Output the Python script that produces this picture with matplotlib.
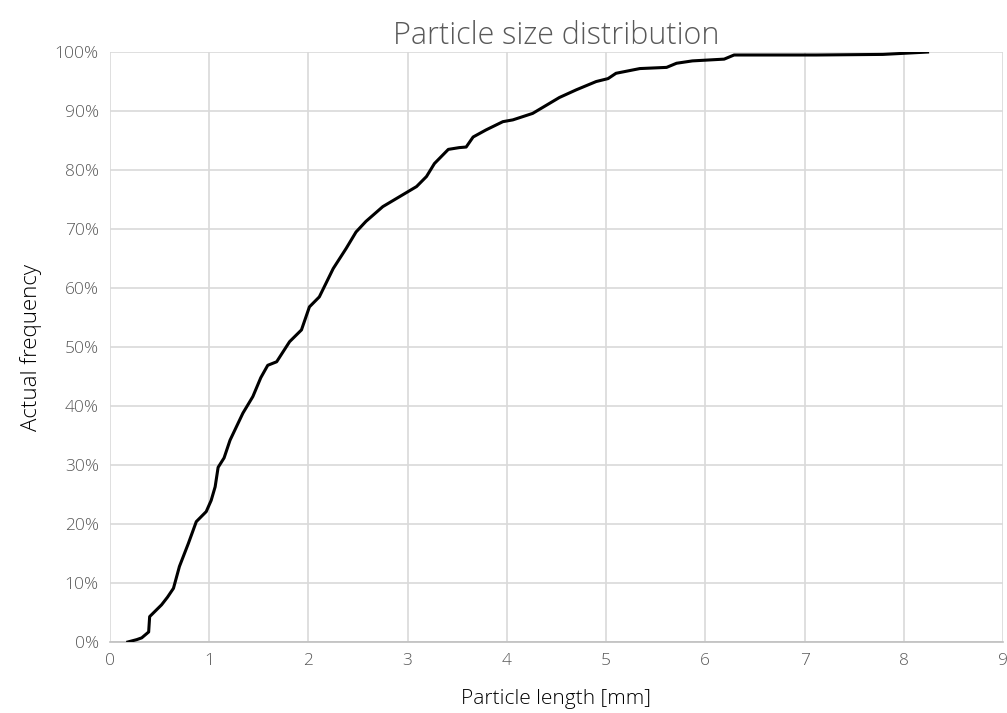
import matplotlib.pyplot as plt
from matplotlib.ticker import PercentFormatter

# particle length [mm] and cumulative frequency [%]
length_mm = [0.18, 0.27, 0.32, 0.39, 0.40, 0.46, 0.52, 0.58, 0.64, 0.70, 0.79,
             0.87, 0.97, 1.02, 1.06, 1.09, 1.15, 1.21, 1.34, 1.44, 1.52, 1.59,
             1.68, 1.81, 1.93, 2.01, 2.11, 2.25, 2.38, 2.48, 2.58, 2.75, 2.92,
             3.09, 3.19, 3.27, 3.41, 3.52, 3.59, 3.66, 3.79, 3.96, 4.06, 4.26,
             4.40, 4.53, 4.70, 4.90, 5.02, 5.10, 5.34, 5.61, 5.71, 5.87, 6.19,
             6.29, 7.12, 7.79, 8.24]
frequency = [0.0, 0.4, 0.7, 1.7, 4.3, 5.3, 6.3, 7.6, 9.1, 12.8, 16.7,
             20.4, 22.1, 24.0, 26.3, 29.6, 31.2, 34.2, 38.8, 41.6, 44.8, 46.9,
             47.5, 50.9, 52.9, 56.8, 58.5, 63.3, 66.7, 69.5, 71.3, 73.8, 75.5,
             77.2, 78.9, 81.1, 83.5, 83.8, 83.9, 85.6, 86.8, 88.2, 88.5, 89.6,
             91.0, 92.3, 93.6, 95.0, 95.5, 96.4, 97.2, 97.4, 98.1, 98.5, 98.8,
             99.5, 99.5, 99.6, 100.0]

x_ticks = list(range(0, 10))
y_ticks = list(range(0, 101, 10))

plt.rcParams['font.family'] = ['Open Sans', 'DejaVu Sans']

fig = plt.figure(figsize=(10.07, 7.13), dpi=100)
ax = fig.add_axes([0.1092, 0.0996, 0.8868, 0.8274])

ax.plot(length_mm, frequency, color='black', linewidth=2.2,
        solid_joinstyle='round', zorder=3)

ax.set_xlim(0, 9)
ax.set_ylim(0, 100)
ax.set_xticks(x_ticks)
ax.set_yticks(y_ticks)
ax.yaxis.set_major_formatter(PercentFormatter(decimals=0))
ax.grid(True, color='#d9d9d9', linewidth=1.2)
ax.set_axisbelow(True)
for side in ['top', 'right', 'left']:
    ax.spines[side].set_visible(False)
ax.spines['bottom'].set_color('#bfbfbf')
ax.spines['bottom'].set_linewidth(1.2)
ax.tick_params(length=0, labelsize=12.5, colors='#595959', pad=8)
for lbl in ax.get_xticklabels() + ax.get_yticklabels():
    lbl.set_fontweight('light')

ax.set_title('Particle size distribution', fontsize=22, color='#595959',
             fontweight='light', pad=5)
ax.set_xlabel('Particle length [mm]', fontsize=15, color='black',
              fontweight='light', labelpad=14)
ax.set_ylabel('Actual frequency', fontsize=16, color='black',
              fontweight='light', labelpad=9)

fig.savefig('out.png', dpi=100)
